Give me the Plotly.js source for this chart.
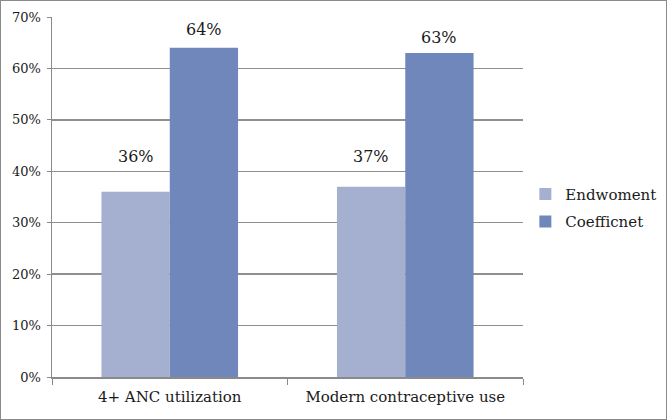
<!DOCTYPE html>
<html><head><meta charset="utf-8">
<script src="https://cdn.plot.ly/plotly-3.0.1.min.js"></script>
<style>
html,body{margin:0;padding:0;background:#fff;}
#wrap{width:667px;height:420px;box-sizing:border-box;border:1px solid #8a8a8a;}
#chart{width:665px;height:418px;}
</style></head>
<body><div id="wrap"><div id="chart"></div></div>
<script>
const categories = ["4+ ANC utilization", "Modern contraceptive use"];
const endowment = [36, 37];
const coefficient = [64, 63];
const seriesNames = ["Endwoment", "Coefficnet"];
const yTickVals = [0, 10, 20, 30, 40, 50, 60, 70];
const yTickText = ["0%", "10%", "20%", "30%", "40%", "50%", "60%", "70%"];

const serif = "DejaVu Serif";
const colors = ["#A5B0D1", "#6F87BA"];

const traces = [endowment, coefficient].map((vals, i) => ({
  type: "bar", x: categories, y: vals, name: seriesNames[i], legendgroup: "g" + i,
  marker: {color: colors[i], line: {width: 0}}, hoverinfo: "skip"
}));

const labelShift = [[35, 30], [18, 16]];
const annotations = [];
[endowment, coefficient].forEach((vals, s) => {
  vals.forEach((v, c) => {
    annotations.push({
      x: categories[c], y: v, xref: "x", yref: "y", text: v + "%",
      showarrow: false, xshift: (s === 0 ? -34 : 34), yshift: labelShift[s][c],
      font: {family: serif, size: 16, color: "#1a1a1a"}
    });
  });
});

const layout = {
  width: 665, height: 418,
  margin: {l: 51, r: 143, t: 16, b: 42, autoexpand: false},
  paper_bgcolor: "#fff", plot_bgcolor: "#fff",
  font: {family: serif},
  barmode: "group", bargap: 0.42, bargroupgap: 0,
  showlegend: true,
  legend: {x: 1.005, y: 0.47, xanchor: "left", yanchor: "middle",
    font: {family: serif, size: 15, color: "#1a1a1a"}, itemwidth: 30, tracegroupgap: 5},
  xaxis: {type: "category", showline: true, linecolor: "#8a8a8a", linewidth: 1.5,
    ticks: "outside", tickson: "boundaries", ticklen: 6, tickcolor: "#8a8a8a",
    ticklabelstandoff: 5,
    showgrid: false, tickfont: {family: serif, size: 15, color: "#1a1a1a"}, fixedrange: true},
  yaxis: {range: [0, 70], tickvals: yTickVals, ticktext: yTickText,
    showline: true, linecolor: "#8a8a8a", linewidth: 1.5, ticks: "outside", ticklen: 4, tickcolor: "#8a8a8a",
    ticklabelstandoff: 3,
    showgrid: true, gridcolor: "#8f8f8f", gridwidth: 1.3, zeroline: false,
    tickfont: {family: serif, size: 13, color: "#1a1a1a"}, fixedrange: true},
  annotations: annotations
};

Plotly.newPlot("chart", traces, layout, {displayModeBar: false, staticPlot: true});
</script></body></html>
